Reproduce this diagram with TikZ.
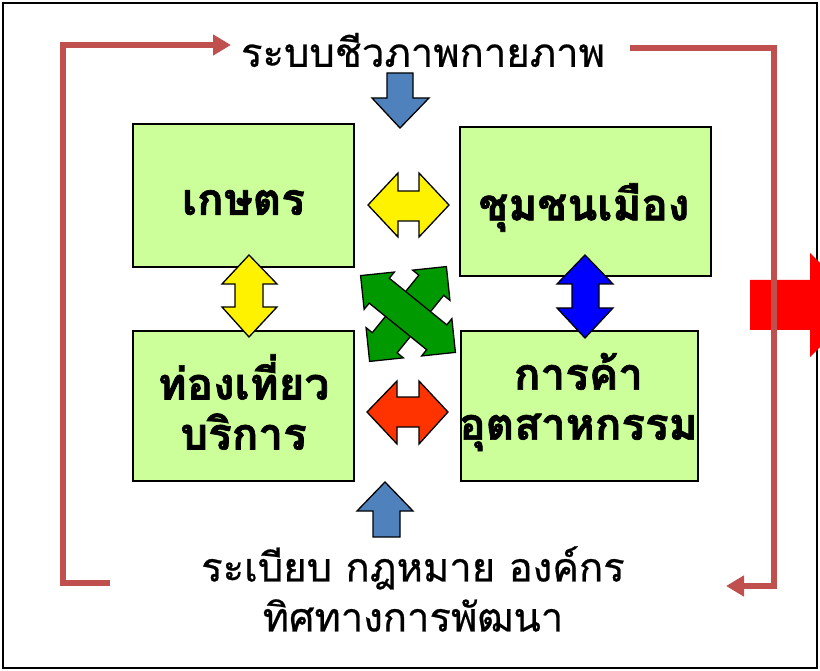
\documentclass[tikz,border=0pt]{standalone}
\usepackage{fontspec}
\newfontfamily\thai[Script=Thai,BoldFeatures={FakeBold=1.5}]{Loma}
\newfontfamily\thaititle[Script=Thai,FakeBold=0.6]{Loma}
\usetikzlibrary{arrows.meta}
\definecolor{boxgreen}{HTML}{CCFF99}
\definecolor{loopred}{HTML}{C0504D}
\definecolor{steel}{HTML}{4F81BD}
\definecolor{orangered}{HTML}{FF3300}
\definecolor{quadgreen}{HTML}{009900}
\definecolor{bigred}{HTML}{FF0000}
\tikzset{
  sector/.style={draw=black, line width=1.8pt, fill=boxgreen, inner sep=0pt},
  sectortext/.style={inner sep=0pt, font=\thai\bfseries\fontsize{44}{50}\selectfont, align=center},
  label/.style={inner sep=0pt, font=\thaititle\fontsize{40}{50}\selectfont, align=center},
  loopline/.style={draw=loopred, line width=6pt, line join=miter},
  looptip/.style={-{Triangle[length=18pt,width=20pt]}},
  blockarrow/.style={draw=black, line width=1.3pt, line join=miter},
}
\begin{document}
\begin{tikzpicture}[x=1pt,y=-1pt]
\useasboundingbox (0,0) rectangle (820,671);
\clip (0,0) rectangle (820,671);
% outer frame
\draw[line width=1.5pt] (3,3) rectangle (817,668);
% big red arrow on the right (cut off by the edge)
\fill[bigred] (750,280) -- (810,280) -- (810,253) -- (862,305) -- (810,357) -- (810,330) -- (750,330) -- cycle;
% texts
\node[label] (top) at (423,50) {ระบบชีวภาพกายภาพ};
\node[label] (bottom) at (413,589) {ระเบียบ กฎหมาย องค์กร\\ทิศทางการพัฒนา};
% boxes
\node[sector, minimum width=221pt, minimum height=143pt] (agri) at (243.5,195.5) {};
\node[sector, minimum width=251pt, minimum height=149pt] (city) at (585.5,201.5) {};
\node[sector, minimum width=221pt, minimum height=150pt] (tour) at (243.5,406) {};
\node[sector, minimum width=237pt, minimum height=150pt] (trade) at (579.5,406) {};
\node[sectortext] (agri-t) at (243.5,202.5) {เกษตร};
\node[sectortext] (city-t) at (584,207.5) {ชุมชนเมือง};
\node[sectortext] (tour-t) at (243.5,402) {ท่องเที่ยว\\บริการ};
\node[sectortext] (trade-t) at (578.5,402) {การค้า\\อุตสาหกรรม};
% loop connectors
\coordinate (lstart) at (110,583);
\coordinate (ltop) at (63,45);
\coordinate (ltip) at (231,45);
\coordinate (rstart) at (630,48);
\coordinate (rbot) at (774,586);
\coordinate (rtip) at (726,586);
\draw[loopline, looptip] (lstart) -| (ltop) -- (ltip);
\draw[loopline, looptip] (rstart) -| (rbot) -- (rtip);
% steel blue arrows
\draw[blockarrow, fill=steel] (387,73) -- (413,73) -- (413,98) -- (429,98) -- (400,128) -- (372,98) -- (387,98) -- cycle;
\draw[blockarrow, fill=steel] (373,537) -- (400,537) -- (400,511) -- (413,511) -- (385,482) -- (357,511) -- (373,511) -- cycle;
% double arrows
\draw[blockarrow, fill=yellow] (368,205) -- (398,173) -- (398,191) -- (419,191) -- (419,173) -- (449,205) -- (419,237) -- (419,221) -- (398,221) -- (398,237) -- cycle;
\draw[blockarrow, fill=orangered] (367,412) -- (397,381) -- (397,397) -- (419,397) -- (419,381) -- (448,412) -- (419,444) -- (419,427) -- (397,427) -- (397,444) -- cycle;
\draw[blockarrow, fill=yellow] (249,255) -- (277,284) -- (263,284) -- (263,307) -- (277,307) -- (249,337) -- (222,307) -- (235,307) -- (235,284) -- (222,284) -- cycle;
\draw[blockarrow, fill=blue] (585,255) -- (613,284) -- (599,284) -- (599,308) -- (613,308) -- (585,338) -- (557,308) -- (572,308) -- (572,284) -- (557,284) -- cycle;
% green crossing arrows
\begin{scope}[shift={(408,314)}, rotate=51]
\draw[blockarrow, fill=quadgreen] (-61,0) -- (-37,24) -- (-37,16) -- (37,16) -- (37,24) -- (61,0) -- (37,-24) -- (37,-16) -- (-37,-16) -- (-37,-24) -- cycle;
\end{scope}
\begin{scope}[shift={(408,314)}, rotate=-39]
\draw[blockarrow, fill=quadgreen] (-61,0) -- (-37,24) -- (-37,16) -- (37,16) -- (37,24) -- (61,0) -- (37,-24) -- (37,-16) -- (-37,-16) -- (-37,-24) -- cycle;
\end{scope}
\end{tikzpicture}
\end{document}
